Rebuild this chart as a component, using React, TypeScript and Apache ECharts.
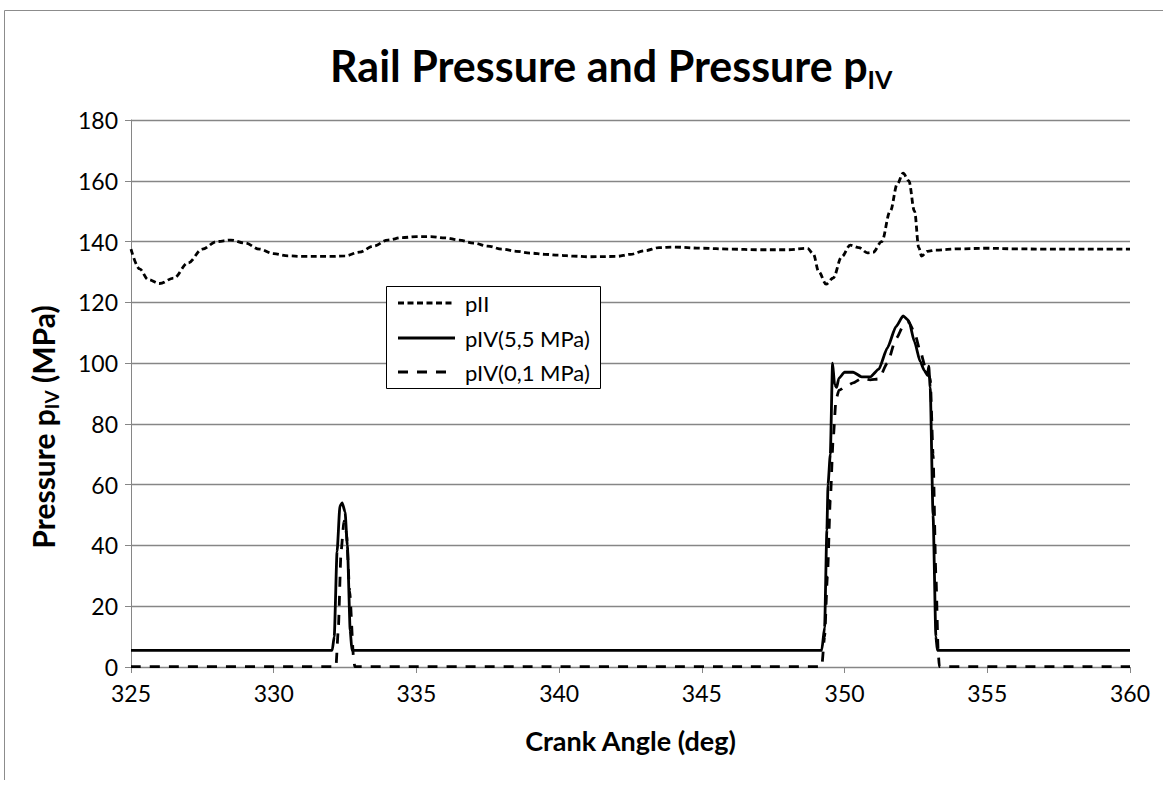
import React, { useEffect, useRef } from "react";
import * as echarts from "echarts";

const xTicks = { min: 325, max: 360, interval: 5 };
const yTicks = { min: 0, max: 180, interval: 20 };

const pIIAngle = [325.0, 325.3, 325.6, 326.0, 326.5, 327.0, 327.5, 328.0, 328.5, 329.0, 329.5, 330.0, 330.5, 331.0, 332.0, 332.5, 333.0, 333.5, 334.0, 334.5, 335.0, 335.5, 336.0, 336.5, 337.0, 337.5, 338.0, 338.5, 339.0, 339.5, 340.0, 340.5, 341.0, 342.0, 342.5, 343.0, 343.5, 344.0, 345.0, 346.0, 347.0, 348.0, 348.7, 348.9, 349.1, 349.35, 349.6, 349.9, 350.2, 350.5, 350.8, 351.0, 351.3, 351.6, 351.85, 352.05, 352.25, 352.45, 352.6, 352.7, 352.9, 353.2, 354.0, 355.0, 356.0, 357.0, 358.0, 359.0, 360.0];
const pIIValue = [137.5, 131, 127.5, 126.2, 128, 133, 137.5, 140, 140.5, 139.5, 137.5, 136, 135.3, 135.1, 135.1, 135.3, 136.5, 138.5, 140.5, 141.3, 141.6, 141.6, 141.2, 140.5, 139.5, 138.5, 137.5, 136.8, 136.2, 135.8, 135.5, 135.2, 135.0, 135.1, 135.8, 137, 138, 138.2, 137.8, 137.5, 137.3, 137.3, 137.8, 136, 130, 126, 128, 135, 138.8, 138, 136.3, 136.5, 140, 150, 159, 162.5, 160, 150, 138, 135.2, 136.8, 137.2, 137.6, 137.8, 137.6, 137.5, 137.5, 137.5, 137.5];

const pIV55Angle = [325, 332.05, 332.12, 332.22, 332.32, 332.4, 332.5, 332.58, 332.68, 332.74, 349.2, 349.3, 349.38, 349.42, 349.5, 349.58, 349.65, 349.72, 349.8, 350.0, 350.3, 350.6, 350.9, 351.2, 351.5, 351.8, 352.05, 352.25, 352.45, 352.65, 352.8, 352.9, 352.95, 353.0, 353.1, 353.2, 353.25, 360];
const pIV55Value = [5.5, 5.5, 10, 38, 53, 54, 51, 40, 12, 5.5, 5.5, 13, 45, 60, 70, 100, 93, 92, 95, 97, 97, 95.5, 95.5, 98, 105, 112, 115.5, 114, 107, 100.5, 97.5, 96, 99, 92, 50, 10, 5.5, 5.5];

const pIV01Angle = [325, 332.18, 332.26, 332.36, 332.46, 332.55, 332.66, 332.8, 332.84, 349.2, 349.3, 349.4, 349.5, 349.6, 349.7, 349.8, 350.0, 350.3, 350.6, 350.9, 351.2, 351.5, 351.8, 352.1, 352.25, 352.45, 352.65, 352.85, 353.0, 353.1, 353.2, 353.28, 353.32, 360];
const pIV01Value = [0.1, 0.1, 12, 38, 48, 44, 25, 3, 0.1, 0.1, 10, 30, 55, 75, 88, 91, 92, 93.5, 95, 94.5, 94.8, 100, 108, 113, 113.5, 110, 104, 98, 95, 70, 30, 5, 0.1, 0.1];

const seriesNames = ["pII", "pIV(5,5 MPa)", "pIV(0,1 MPa)"];
const seriesDash: (number[] | null)[] = [[6, 3.5], null, [10, 9]];

const pairs = (xs: number[], ys: number[]) => xs.map((x, i) => [x, ys[i]]);

const FONT = "Lato";
const GRID = "#868686";

export default function App() {
  const ref = useRef<HTMLDivElement>(null);
  useEffect(() => {
    document.body.style.margin = "0";
    const chart = echarts.init(ref.current!, null, { renderer: "svg" });

    const legendX = 386;
    const legendY = 286;
    const legendRows = [303, 338, 372];
    const legendGraphics: any[] = [
      {
        type: "rect",
        shape: { x: legendX + 0.5, y: legendY + 0.5, width: 214, height: 102 },
        style: { fill: "#fff", stroke: "#000", lineWidth: 1 },
        z: 10,
      },
    ];
    seriesNames.forEach((name, i) => {
      legendGraphics.push({
        type: "line",
        shape: { x1: 398, y1: legendRows[i], x2: 455, y2: legendRows[i] },
        style: { stroke: "#000", lineWidth: 2.8, lineDash: seriesDash[i] || undefined },
        z: 11,
      });
      legendGraphics.push({
        type: "text",
        x: 465,
        y: legendRows[i],
        style: { text: name, fontFamily: FONT, fontSize: 22, fill: "#000", verticalAlign: "middle", align: "left" },
        z: 11,
      });
    });

    chart.setOption({
      animation: false,
      backgroundColor: "#fff",
      textStyle: { fontFamily: FONT },
      title: {
        text: "Rail Pressure and Pressure p{s|IV}",
        left: 330,
        top: 39,
        padding: 0,
        textStyle: {
          fontFamily: FONT,
          fontSize: 43,
          fontWeight: "bold",
          color: "#000",
          lineHeight: 52,
          rich: {
            s: { fontFamily: FONT, fontSize: 25, fontWeight: "bold", color: "#000", lineHeight: 24, verticalAlign: "bottom" },
          },
        },
      },
      graphic: [
        {
          type: "polyline",
          shape: { points: [[4.5, 780], [4.5, 10.5], [1163, 10.5]] },
          style: { stroke: "#8c8c8c", lineWidth: 1, fill: "none" },
          silent: true,
        },
        {
          type: "text",
          x: 43,
          y: 427,
          rotation: Math.PI / 2,
          style: {
            text: "Pressure p{s|IV} (MPa)",
            fontFamily: FONT,
            fontSize: 30,
            fontWeight: "bold",
            fill: "#000",
            align: "center",
            verticalAlign: "middle",
            lineHeight: 36,
            rich: {
              s: { fontFamily: FONT, fontSize: 19, fontWeight: "bold", fill: "#000", lineHeight: 18, verticalAlign: "bottom" },
            },
          },
        },
        ...legendGraphics,
      ],
      grid: { left: 131, right: 33, top: 120, bottom: 119 },
      xAxis: {
        type: "value",
        min: xTicks.min,
        max: xTicks.max,
        interval: xTicks.interval,
        name: "Crank Angle (deg)",
        nameLocation: "middle",
        nameGap: 60,
        nameTextStyle: { fontFamily: FONT, fontSize: 27, fontWeight: "bold", color: "#000" },
        axisLine: { show: true, lineStyle: { color: GRID, width: 1 } },
        axisTick: { show: true, length: 6, lineStyle: { color: GRID } },
        axisLabel: { fontFamily: FONT, fontSize: 23, color: "#000", margin: 14 },
        splitLine: { show: false },
      },
      yAxis: {
        type: "value",
        min: yTicks.min,
        max: yTicks.max,
        interval: yTicks.interval,
        axisLine: { show: true, lineStyle: { color: GRID, width: 1 } },
        axisTick: { show: true, length: 6, lineStyle: { color: GRID } },
        axisLabel: { fontFamily: FONT, fontSize: 23, color: "#000", margin: 13 },
        splitLine: { show: true, lineStyle: { color: GRID, width: 1.3 } },
      },
      series: [
        {
          name: seriesNames[0],
          type: "line",
          data: pairs(pIIAngle, pIIValue),
          showSymbol: false,
          symbol: "none",
          smooth: 0.35,
          smoothMonotone: "x",
          lineStyle: { color: "#000", width: 2.8, type: seriesDash[0] },
          itemStyle: { color: "#000" },
        },
        {
          name: seriesNames[1],
          type: "line",
          data: pairs(pIV55Angle, pIV55Value),
          showSymbol: false,
          symbol: "none",
          smooth: 0.2,
          smoothMonotone: "x",
          lineStyle: { color: "#000", width: 2.8, type: "solid" },
          itemStyle: { color: "#000" },
        },
        {
          name: seriesNames[2],
          type: "line",
          data: pairs(pIV01Angle, pIV01Value),
          showSymbol: false,
          symbol: "none",
          smooth: 0.2,
          smoothMonotone: "x",
          lineStyle: { color: "#000", width: 2.8, type: seriesDash[2] },
          itemStyle: { color: "#000" },
        },
      ],
    });
    return () => chart.dispose();
  }, []);
  return <div ref={ref} style={{ width: 1163, height: 786 }} />;
}
